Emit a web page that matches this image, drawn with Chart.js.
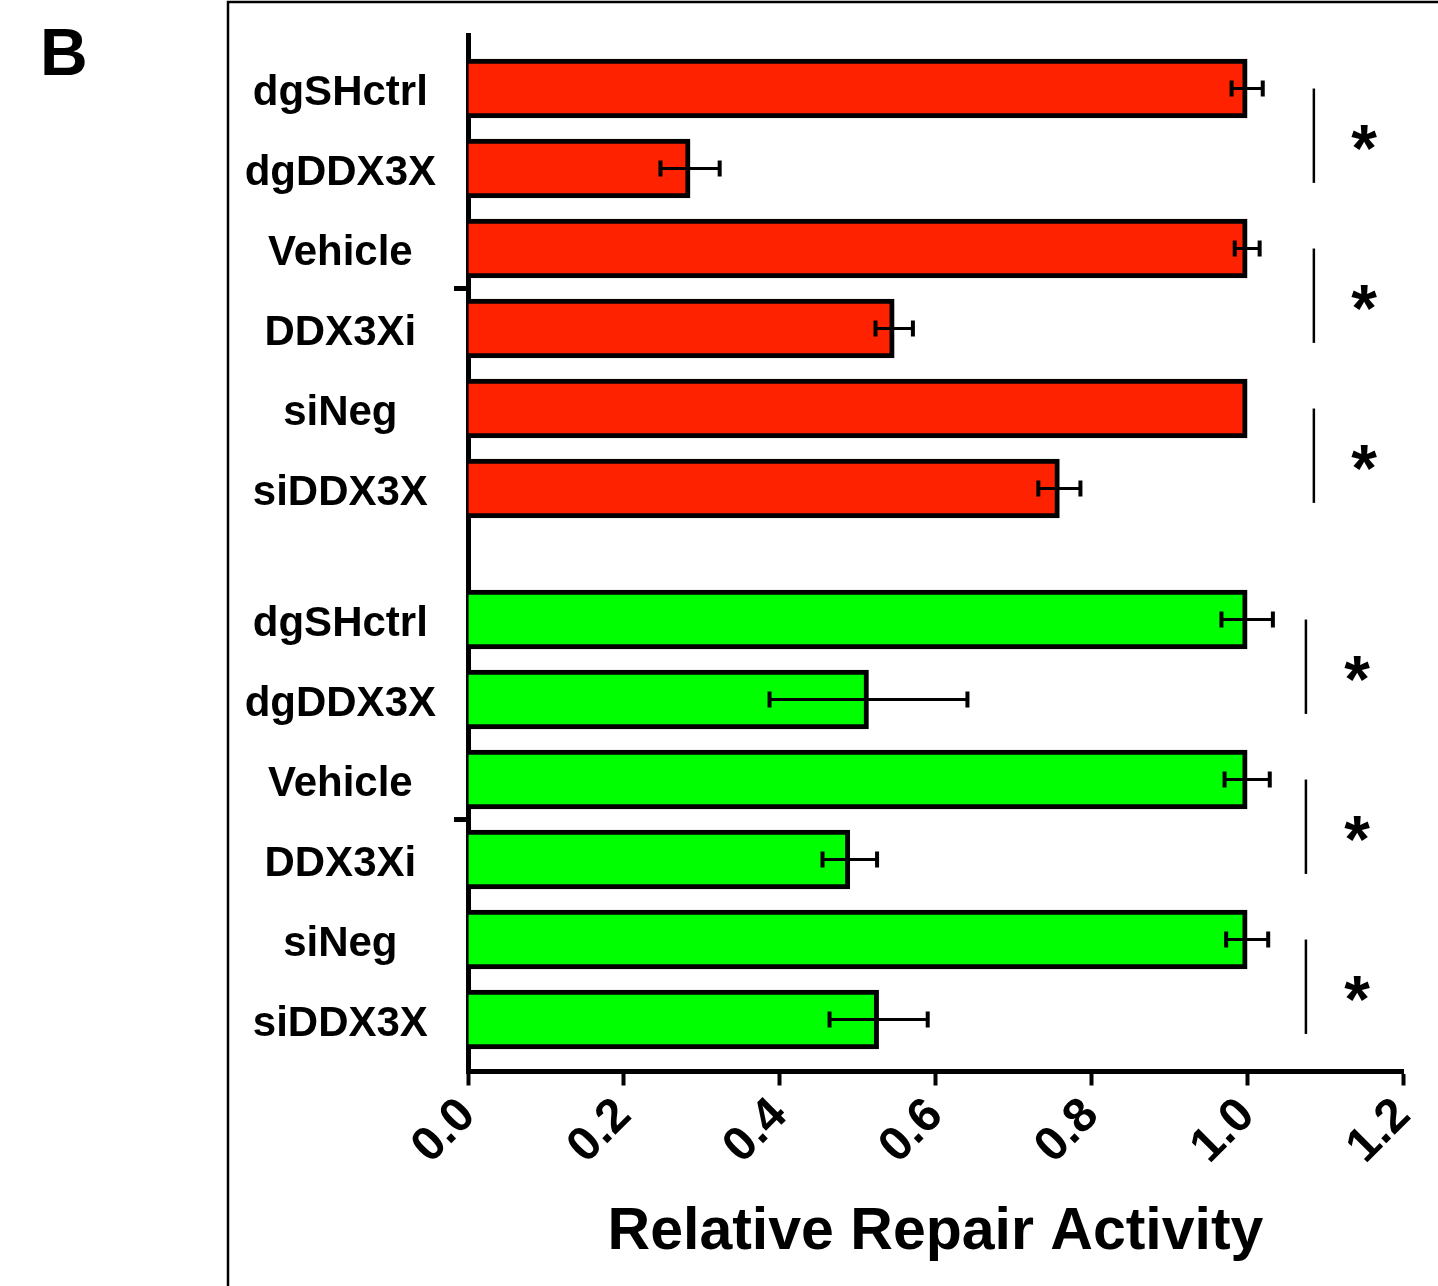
<!DOCTYPE html>
<html>
<head>
<meta charset="utf-8">
<script src="https://cdn.jsdelivr.net/npm/chart.js@4.4.1/dist/chart.umd.min.js"></script>
<style>
  html, body { margin: 0; padding: 0; background: #fff; }
  canvas { display: block; }
</style>
</head>
<body>
<canvas id="chart" width="1438" height="1286"></canvas>
<script>
// ---- data ----
const categories = ['dgSHctrl', 'dgDDX3X', 'Vehicle', 'DDX3Xi', 'siNeg', 'siDDX3X'];
const redValues = [1.0, 0.285, 1.0, 0.547, 1.0, 0.759];
const redErrors = [0.020, 0.038, 0.016, 0.024, 0, 0.027];
const greenValues = [1.0, 0.514, 1.0, 0.490, 1.0, 0.527];
const greenErrors = [0.033, 0.127, 0.029, 0.035, 0.027, 0.063];
const xTicks = [0, 0.2, 0.4, 0.6, 0.8, 1.0, 1.2];
const significance = ['*', '*', '*'];   // comparisons (0,1), (2,3), (4,5) in each group
const axisTitle = 'Relative Repair Activity';
const panelLetter = 'B';

// ---- layout constants ----
const FONT = '"Liberation Sans", Arial, Helvetica, sans-serif';
const GROUP_OFFSETS = [0, 6.6375];          // row position of the first bar of each group
const BRACKET_X = [1.0856, 1.0754];         // significance line position per group (x units)
const STAR_X = [1.150, 1.141];
const COLORS = ['#ff2200', '#00ff00'];

const rowPositions = [];
const rowLabels = [];
GROUP_OFFSETS.forEach(off => categories.forEach((c, i) => { rowPositions.push(off + i); rowLabels.push(c); }));

const groups = [
  { values: redValues, errors: redErrors },
  { values: greenValues, errors: greenErrors }
];

const decor = {
  id: 'decor',
  beforeDraw(chart) {
    const ctx = chart.ctx;
    ctx.save();
    ctx.fillStyle = '#fff';
    ctx.fillRect(0, 0, chart.width, chart.height);
    // panel frame
    ctx.strokeStyle = '#000';
    ctx.lineWidth = 2.5;
    ctx.beginPath();
    ctx.moveTo(228, chart.height);
    ctx.lineTo(228, 2);
    ctx.lineTo(chart.width, 2);
    ctx.stroke();
    // panel letter
    ctx.fillStyle = '#000';
    ctx.font = 'bold 66px ' + FONT;
    ctx.textAlign = 'left';
    ctx.textBaseline = 'alphabetic';
    ctx.fillText(panelLetter, 40, 75);
    ctx.restore();
  },
  afterDatasetsDraw(chart) {
    // error bars
    const ctx = chart.ctx;
    const xs = chart.scales.x;
    ctx.save();
    ctx.strokeStyle = '#000';
    chart.data.datasets.forEach((ds, d) => {
      const meta = chart.getDatasetMeta(d);
      meta.data.forEach((el, i) => {
        const v = groups[d].values[i];
        const e = groups[d].errors[i];
        if (!e) return;
        const x1 = xs.getPixelForValue(v - e);
        const x2 = xs.getPixelForValue(v + e);
        const y = el.y;
        ctx.lineWidth = 3;
        ctx.beginPath();
        ctx.moveTo(x1, y); ctx.lineTo(x2, y);
        ctx.stroke();
        ctx.lineWidth = 4;
        ctx.beginPath();
        ctx.moveTo(x1, y - 8); ctx.lineTo(x1, y + 8);
        ctx.moveTo(x2, y - 8); ctx.lineTo(x2, y + 8);
        ctx.stroke();
      });
    });
    ctx.restore();
  },
  afterDraw(chart) {
    const ctx = chart.ctx;
    const xs = chart.scales.x;
    const ys = chart.scales.y;
    const left = chart.chartArea.left;
    ctx.save();
    ctx.strokeStyle = '#000';
    ctx.fillStyle = '#000';
    // group tick marks on the category axis
    ctx.lineWidth = 5;
    GROUP_OFFSETS.forEach(off => {
      const y = ys.getPixelForValue(off + (categories.length - 1) / 2);
      ctx.beginPath();
      ctx.moveTo(454, y); ctx.lineTo(left, y);
      ctx.stroke();
    });
    // significance lines and stars
    ctx.font = 'bold 66px ' + FONT;
    ctx.textAlign = 'center';
    ctx.textBaseline = 'alphabetic';
    GROUP_OFFSETS.forEach((off, g) => {
      significance.forEach((mark, k) => {
        const p0 = off + 2 * k;
        const p1 = off + 2 * k + 1 + 0.18;
        const y0 = ys.getPixelForValue(p0);
        const y1 = ys.getPixelForValue(p1);
        const x = xs.getPixelForValue(BRACKET_X[g]);
        ctx.lineWidth = 2.5;
        ctx.beginPath();
        ctx.moveTo(x, y0); ctx.lineTo(x, y1);
        ctx.stroke();
        const m = ctx.measureText(mark);
        const cy = (y0 + y1) / 2 + 2;
        const base = cy + (m.actualBoundingBoxAscent - m.actualBoundingBoxDescent) / 2;
        ctx.fillText(mark, xs.getPixelForValue(STAR_X[g]), base);
      });
    });
    ctx.restore();
  }
};

new Chart(document.getElementById('chart'), {
  type: 'bar',
  data: {
    datasets: groups.map((grp, g) => ({
      label: g === 0 ? 'red' : 'green',
      data: grp.values.map((v, i) => ({ x: v, y: GROUP_OFFSETS[g] + i })),
      backgroundColor: COLORS[g],
      borderColor: '#000',
      borderWidth: 5,
      borderSkipped: 'start',
      barThickness: 59,
      grouped: false
    }))
  },
  options: {
    indexAxis: 'y',
    responsive: false,
    animation: false,
    devicePixelRatio: 1,
    layout: { padding: { top: 35, right: 35, bottom: 0, left: 0 } },
    plugins: { legend: { display: false }, tooltip: { enabled: false } },
    scales: {
      x: {
        type: 'linear',
        min: 0,
        max: 1.2,
        offset: false,
        afterBuildTicks: s => { s.ticks = xTicks.map(v => ({ value: v })); },
        afterFit: s => { s.height = 214.5; s.paddingLeft = 0; s.paddingRight = 0; },
        border: { display: true, color: '#000', width: 5 },
        grid: { display: true, drawOnChartArea: false, drawTicks: true, tickLength: 14, tickWidth: 4, tickColor: '#000' },
        ticks: {
          autoSkip: false,
          minRotation: 45,
          maxRotation: 45,
          padding: 2,
          color: '#000',
          font: { family: FONT, size: 48, weight: 'bold' },
          callback: v => Number(v).toFixed(1)
        },
        title: {
          display: true,
          text: axisTitle,
          color: '#000',
          font: { family: FONT, size: 59, weight: 'bold' },
          padding: { top: 0, bottom: 18 }
        }
      },
      y: {
        type: 'linear',
        reverse: true,
        offset: false,
        min: -0.669,
        max: 12.287,
        z: 1,
        afterBuildTicks: s => { s.ticks = rowPositions.map(v => ({ value: v })); },
        afterFit: s => { s.width = 468; s.paddingTop = 0; s.paddingBottom = 0; },
        border: { display: true, color: '#000', width: 5 },
        grid: { display: false, drawTicks: false },
        ticks: {
          autoSkip: false,
          crossAlign: 'center',
          padding: 32,
          labelOffset: 5,
          color: '#000',
          font: { family: FONT, size: 42, weight: 'bold' },
          callback: (v, i) => rowLabels[i]
        }
      }
    }
  },
  plugins: [decor]
});
</script>
</body>
</html>
